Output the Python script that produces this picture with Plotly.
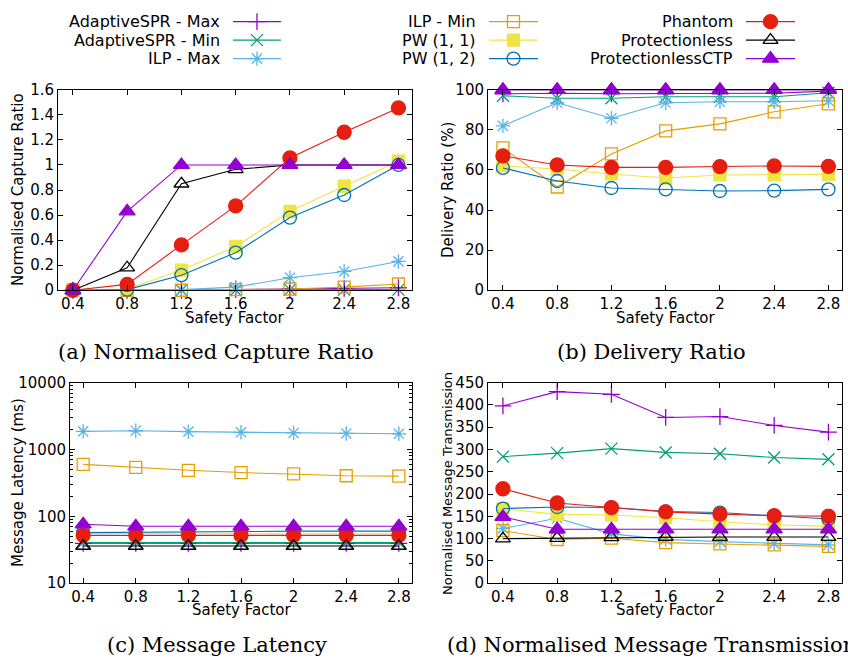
import plotly.graph_objects as go

# ---------------- data ----------------
safety_factor = [0.4, 0.8, 1.2, 1.6, 2.0, 2.4, 2.8]
safety_labels = ["0.4", "0.8", "1.2", "1.6", "2", "2.4", "2.8"]
latency_ticks = [10, 100, 1000, 10000]
latency_tick_labels = ["10", "100", "1000", "10000"]

series_names = ["AdaptiveSPR - Max", "AdaptiveSPR - Min", "ILP - Max", "ILP - Min",
                "PW (1, 1)", "PW (1, 2)", "Phantom", "Protectionless", "ProtectionlessCTP"]

capture_ratio = [
    [0, 0, 0, 0.005, 0.01, 0.015, 0.02],
    [0, 0, 0, 0, 0.005, 0.005, 0.005],
    [0, 0, 0.005, 0.025, 0.10, 0.15, 0.23],
    [0, 0, 0, 0.005, 0.01, 0.025, 0.05],
    [0, 0.01, 0.16, 0.35, 0.63, 0.83, 1.03],
    [0, 0.005, 0.12, 0.30, 0.58, 0.76, 1.0],
    [0, 0.047, 0.362, 0.673, 1.056, 1.261, 1.455],
    [0, 0.18, 0.85, 0.965, 1.0, 1.0, 1.0],
    [0, 0.63, 1.0, 1.0, 1.0, 1.0, 1.0],
]

delivery_ratio = [
    [98, 98.3, 98, 98, 98, 98.3, 99.3],
    [97, 95.8, 95.8, 96.5, 96.5, 96.5, 98.5],
    [82, 93.5, 85.8, 93.5, 94, 94, 94.5],
    [71, 51.5, 68, 79.5, 83, 89, 93],
    [62, 60.5, 58, 56, 57.5, 57.5, 57.8],
    [61, 54.5, 51, 50.3, 49.5, 49.7, 50.3],
    [67, 62.5, 61.3, 61.3, 61.7, 62, 61.8],
    [100, 100, 100, 100, 100, 100, 100],
    [100, 100, 100, 100, 100, 100, 100],
]

message_latency = [
    [39.5, 39.5, 39.5, 39.5, 39.5, 39.5, 39.5],
    [40.5, 40.5, 40.5, 40.5, 40.5, 40.5, 40.5],
    [1870, 1910, 1850, 1810, 1770, 1740, 1720],
    [600, 541, 489, 452, 432, 405, 400],
    [56, 55, 55, 55, 55, 55, 55],
    [57, 58, 59, 59, 60, 60, 60],
    [52, 52, 52, 52, 52, 52, 52],
    [36, 36, 36, 36, 36, 36, 36],
    [76, 71, 71, 71, 71, 71, 71],
]

message_transmission = [
    [398, 430, 424, 372, 374, 354, 339],
    [284, 292, 302, 293.5, 290.5, 282, 278],
    [123, 145.6, 110.7, 98.3, 93.2, 88.8, 85.9],
    [118, 98, 101, 91, 88, 86, 82.5],
    [167, 154.4, 153, 147, 138, 131, 127.4],
    [167.5, 171, 170, 161, 158.5, 151, 144],
    [212, 180, 169.7, 160, 155, 151.4, 150.5],
    [100, 101, 103, 103.5, 103.5, 103.5, 103.5],
    [149, 121, 121, 121, 121, 121, 121],
]

# ---------------- styles ----------------
colors = ["#9400D3", "#009E73", "#56B4E9", "#E69F00", "#F0E442",
          "#0072B2", "#E51E10", "#000000", "#9400D3"]
symbols = ["cross-thin", "x-thin", "asterisk", "square-open", "square",
           "circle-open", "circle", "triangle-up-open", "triangle-up"]
msizes = [12, 12, 12, 12, 12, 13, 14, 13, 14]

W, H = 848, 671


def px(x):
    return x / W


def py(y):
    return 1 - y / H


fig = go.Figure()

panels = [
    ("x", "y", capture_ratio),
    ("x2", "y2", delivery_ratio),
    ("x3", "y3", message_latency),
    ("x4", "y4", message_transmission),
]


def marker_for(i):
    return dict(symbol=symbols[i], size=msizes[i], color=colors[i],
                line=dict(color=colors[i], width=1.3))


for xa, ya, data in panels:
    for i, name in enumerate(series_names):
        fig.add_trace(go.Scatter(
            x=safety_factor, y=data[i], mode="lines+markers",
            line=dict(color=colors[i], width=1.1),
            marker=marker_for(i), cliponaxis=False, showlegend=False,
            xaxis=xa, yaxis=ya, name=name))

# ---------------- custom legend (gnuplot style) ----------------
leg_text_right = [222, 478, 735]
leg_line_x = [(233, 281), (489, 538), (746, 795)]
leg_rows = [13, 32, 51]
for i, name in enumerate(series_names):
    c, r = divmod(i, 3)
    x0, x1 = leg_line_x[c]
    yy = leg_rows[r]
    fig.add_trace(go.Scatter(x=[x0, x1], y=[yy, yy], mode="lines",
                             line=dict(color=colors[i], width=1.4),
                             xaxis="x5", yaxis="y5", showlegend=False,
                             cliponaxis=False, hoverinfo="skip"))
    fig.add_trace(go.Scatter(x=[(x0 + x1) / 2], y=[yy], mode="markers",
                             marker=marker_for(i),
                             xaxis="x5", yaxis="y5", showlegend=False,
                             cliponaxis=False, hoverinfo="skip"))
    fig.add_annotation(x=px(leg_text_right[c]), y=py(yy), xref="paper", yref="paper",
                       text=name, showarrow=False, xanchor="right", yanchor="middle",
                       font=dict(family="DejaVu Sans", size=16, color="black"))

# ---------------- axes ----------------
tickfont = dict(family="DejaVu Sans", size=15, color="black")
common = dict(showline=True, linecolor="black", linewidth=1, mirror="ticks",
              ticks="inside", ticklen=5, tickcolor="black", tickwidth=1,
              showgrid=False, zeroline=False, tickfont=tickfont)

top_dom = [py(289), py(83)]
bot_dom = [py(590), py(384)]

fig.update_layout(
    width=W, height=H, margin=dict(l=0, r=0, t=0, b=0),
    paper_bgcolor="white", plot_bgcolor="rgba(0,0,0,0)", showlegend=False,
    xaxis=dict(domain=[px(58), px(412)], range=[0.29, 2.9], anchor="y",
               tickmode="array", tickvals=safety_factor, ticktext=safety_labels, **common),
    yaxis=dict(domain=top_dom, range=[0, 1.6], anchor="x", dtick=0.2, **common),
    xaxis2=dict(domain=[px(488), px(842)], range=[0.29, 2.9], anchor="y2",
                tickmode="array", tickvals=safety_factor, ticktext=safety_labels, **common),
    yaxis2=dict(domain=top_dom, range=[0, 100], anchor="x2", dtick=20, **common),
    xaxis3=dict(domain=[px(70), px(412)], range=[0.3, 2.9], anchor="y3",
                tickmode="array", tickvals=safety_factor, ticktext=safety_labels, **common),
    yaxis3=dict(domain=bot_dom, type="log", range=[1, 4], anchor="x3",
                tickmode="array", tickvals=latency_ticks, ticktext=latency_tick_labels,
                minor=dict(ticks="inside", ticklen=3, tickcolor="black", dtick="D1"),
                **common),
    xaxis4=dict(domain=[px(488), px(842)], range=[0.29, 2.9], anchor="y4",
                tickmode="array", tickvals=safety_factor, ticktext=safety_labels, **common),
    yaxis4=dict(domain=bot_dom, range=[0, 450], anchor="x4", dtick=50, **common),
    xaxis5=dict(domain=[0, 1], range=[0, W], visible=False, anchor="y5",
                fixedrange=True),
    yaxis5=dict(domain=[0, 1], range=[H, 0], visible=False, anchor="x5",
                fixedrange=True),
)

# ---------------- axis titles ----------------
axis_titles = [
    ("Safety Factor", 235, 318, 0, 15),
    ("Safety Factor", 665, 318, 0, 15),
    ("Safety Factor", 241, 618, 0, 15),
    ("Safety Factor", 665, 618, 0, 15),
    ("Normalised Capture Ratio", 18, 186, -90, 15),
    ("Delivery Ratio (%)", 448, 186, -90, 15),
    ("Message Latency (ms)", 18, 487, -90, 15),
    ("Normalised Message Transmission", 448, 488, -90, 13),
]
for txt, x, y, ang, sz in axis_titles:
    fig.add_annotation(x=px(x), y=py(y), xref="paper", yref="paper", text=txt,
                       showarrow=False, textangle=ang, xanchor="center",
                       yanchor="middle",
                       font=dict(family="DejaVu Sans", size=sz, color="black"))

# ---------------- captions ----------------
cap_font = dict(family="DejaVu Serif", size=21, color="black")
fig.add_annotation(x=px(216), y=py(352), xref="paper", yref="paper",
                   text="(a) Normalised Capture Ratio", showarrow=False,
                   xanchor="center", yanchor="middle", font=cap_font)
fig.add_annotation(x=px(651), y=py(352), xref="paper", yref="paper",
                   text="(b) Delivery Ratio", showarrow=False,
                   xanchor="center", yanchor="middle", font=cap_font)
fig.add_annotation(x=px(217), y=py(654), xref="paper", yref="paper",
                   text="(c) Message Latency", showarrow=False,
                   xanchor="center", yanchor="middle", font=cap_font)
fig.add_annotation(x=px(445), y=py(654), xref="paper", yref="paper",
                   text="(d) Normalised Message Transmission", showarrow=False,
                   xanchor="left", yanchor="middle", font=cap_font)

fig.write_html("out.html")
